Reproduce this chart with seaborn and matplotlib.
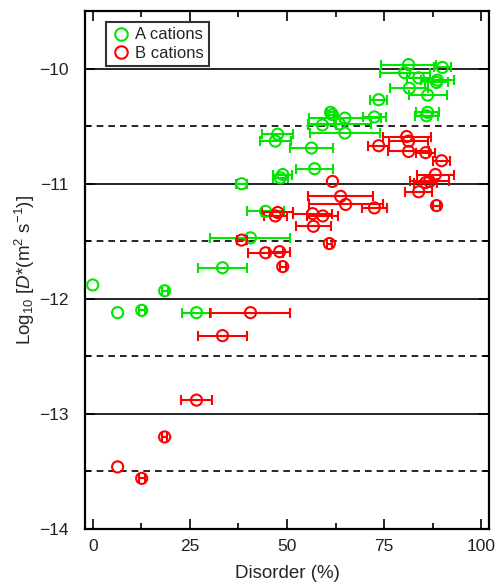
import matplotlib
matplotlib.use("Agg")
import matplotlib.pyplot as plt
from matplotlib.lines import Line2D
import numpy as np
import pandas as pd
import seaborn as sns

# A cations (green)
a_x = [81.3, 90.0, 80.3, 83.9, 88.7, 88.5, 81.5, 86.2, 73.6, 86.2, 85.9, 61.2, 61.7,
       64.9, 72.5, 59.1, 63.5, 64.9, 47.6, 47.0, 56.3, 57.1, 48.9, 48.3, 38.3, 44.5,
       40.6, 33.4, 0.0, 18.5, 6.4, 12.6, 26.7]
a_y = [-9.965, -9.99, -10.035, -10.08, -10.10, -10.12, -10.17, -10.23, -10.27, -10.38,
       -10.41, -10.38, -10.40, -10.43, -10.42, -10.49, -10.48, -10.56, -10.57, -10.63,
       -10.69, -10.87, -10.92, -10.95, -11.0, -11.24, -11.47, -11.73, -11.88, -11.93,
       -12.12, -12.10, -12.12]
a_err = [7.0, 2.2, 6.4, 3.0, 4.3, 3.0, 4.9, 4.9, 2.2, 3.0, 3.0, 0.8, 0.8, 9.3, 3.0,
         3.6, 8.0, 9.0, 4.0, 4.0, 5.5, 4.8, 2.5, 2.0, 1.5, 4.8, 10.3, 6.3, 0.0, 0.8,
         0.0, 0.8, 3.8]

# B cations (red)
b_x = [80.8, 81.3, 73.6, 81.3, 85.7, 89.8, 88.2, 86.7, 85.7, 83.9, 88.5, 61.7, 63.8,
       65.1, 72.5, 47.6, 47.0, 56.6, 59.2, 56.8, 38.3, 60.9, 44.5, 48.1, 48.9, 40.6,
       33.4, 26.7, 18.5, 6.4, 12.6]
b_y = [-10.59, -10.63, -10.67, -10.72, -10.73, -10.80, -10.92, -10.98, -10.99, -11.07,
       -11.19, -10.98, -11.11, -11.18, -11.21, -11.25, -11.28, -11.26, -11.28, -11.37,
       -11.49, -11.52, -11.60, -11.59, -11.72, -12.12, -12.32, -12.88, -13.20, -13.46,
       -13.56]
b_err = [6.2, 5.0, 2.7, 5.2, 2.5, 2.2, 4.8, 5.0, 3.0, 3.4, 0.8, 0.0, 8.4, 9.5, 3.2,
         4.0, 3.0, 5.0, 4.0, 4.6, 1.3, 0.6, 4.5, 2.7, 0.8, 10.3, 6.3, 4.0, 0.6, 0.0, 0.8]

x_ticks = [0, 25, 50, 75, 100]
y_ticks = [-14, -13, -12, -11, -10]
solid_levels = [-10, -11, -12, -13]
dashed_levels = [-10.5, -11.5, -12.5, -13.5]

labels = ["A cations", "B cations"]
colors = {"A cations": "#00e600", "B cations": "#ff0000"}

df = pd.concat([
    pd.DataFrame({"disorder": a_x, "logD": a_y, "err": a_err, "cation": labels[0]}),
    pd.DataFrame({"disorder": b_x, "logD": b_y, "err": b_err, "cation": labels[1]}),
], ignore_index=True)

sns.set_theme(style="ticks")
plt.rcParams["font.family"] = ["Liberation Sans", "DejaVu Sans"]
plt.rcParams["mathtext.fontset"] = "custom"
plt.rcParams["mathtext.rm"] = "Liberation Sans"
plt.rcParams["mathtext.it"] = "Liberation Sans:italic"

fig = plt.figure(figsize=(5.0, 5.82), dpi=100)
ax = fig.add_axes([0.17, 0.091, 0.808, 0.89])

for y in solid_levels:
    ax.axhline(y, color="black", lw=1.2, zorder=1)
for y in dashed_levels:
    ax.axhline(y, color="black", lw=1.2, ls=(0, (4, 3)), zorder=1)

for lab in labels:
    sub = df[df["cation"] == lab]
    sub = sub[sub["err"] > 0]
    ax.errorbar(sub["disorder"], sub["logD"], xerr=sub["err"], fmt="none",
                ecolor=colors[lab], elinewidth=1.5, capsize=3.5, capthick=1.5, zorder=2)

sns.scatterplot(data=df, x="disorder", y="logD", hue="cation", palette=colors,
                s=64, linewidth=1.5, legend=False, ax=ax, zorder=3)
pts = ax.collections[-1]
fc = pts.get_facecolors()
pts.set_edgecolors(fc)
pts.set_facecolors("none")

ax.set_xlim(-2, 102)
ax.set_ylim(-14, -9.5)
ax.set_xticks(x_ticks)
ax.set_xticks(np.arange(0, 101, 12.5), minor=True)
ax.set_yticks(y_ticks)
ax.set_yticks(dashed_levels, minor=True)
ax.set_yticklabels(["\u2212" + str(abs(t)) for t in y_ticks])
ax.tick_params(which="both", direction="in", top=True, right=True, labelsize=12.5,
               width=1.2, color="black", labelcolor="#222222")
ax.tick_params(which="major", length=7)
ax.tick_params(which="minor", length=4)
ax.tick_params(axis="y", pad=12)
ax.tick_params(axis="x", pad=7)
for sp in ax.spines.values():
    sp.set_linewidth(1.6)
    sp.set_color("black")

ax.set_xlabel("Disorder (%)", fontsize=13.5, labelpad=8)
ax.set_ylabel(r"Log$_{10}$ [$D$*(m$^{2}$ s$^{-1}$)]", fontsize=13.5, labelpad=1)

handles = [Line2D([], [], ls="none", marker="o", ms=9, mfc="none", mec=colors[l], mew=1.5)
           for l in labels]
leg = ax.legend(handles, labels, loc="upper left", bbox_to_anchor=(0.052, 0.978),
                frameon=True, fancybox=False, edgecolor="black", fontsize=12,
                handletextpad=0.25, borderpad=0.3, labelspacing=0.2, handlelength=1.2,
                borderaxespad=0)
leg.get_frame().set_linewidth(1.5)

fig.savefig("out.png", dpi=100)
